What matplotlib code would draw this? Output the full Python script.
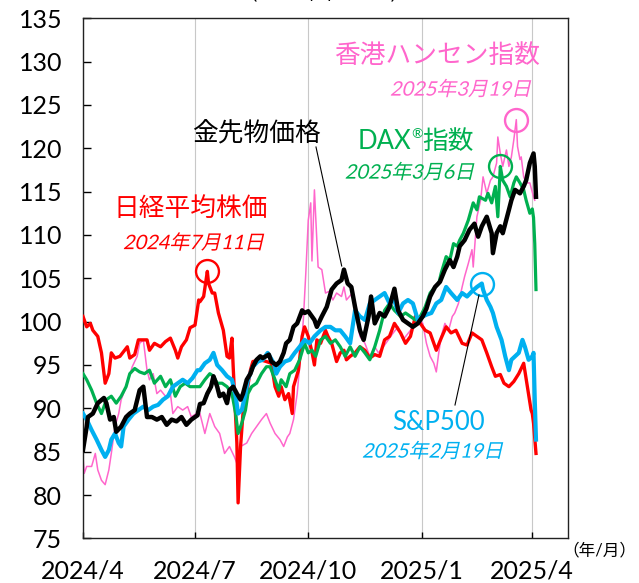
import numpy as np
import pandas as pd
import matplotlib
matplotlib.use("Agg")
import matplotlib.pyplot as plt
from matplotlib.textpath import TextPath
from matplotlib.patches import PathPatch
from matplotlib.font_manager import FontProperties
from matplotlib.transforms import Affine2D

plt.rcParams['font.family'] = ['Lato', 'Noto Sans CJK JP', 'DejaVu Sans']

BASE = pd.Timestamp('2024-04-01')   # day offsets below are days after this date

# ---- data (index, end of 2024 = 100) ----
nikkei_days = [0, 3, 6, 8, 12, 15, 18, 21, 23, 26, 30, 36, 38, 42, 45, 49, 52, 54, 58, 63, 67, 71, 75, 77, 80, 84,
               87, 91, 94, 95, 98, 101, 102, 105, 107, 110, 114, 117, 119, 121, 122, 125, 126, 128, 130, 133, 136,
               138, 144, 149, 153, 156, 159, 161, 164, 167, 170, 171, 175, 178, 180, 183, 186, 188, 190, 193, 197,
               199, 202, 206, 209, 212, 214, 217, 221, 225, 229, 233, 237, 241, 245, 249, 253, 258, 262, 266, 270,
               274, 278, 282, 287, 291, 295, 299, 303, 308, 312, 316, 320, 324, 328, 332, 335, 339, 342, 346, 350,
               354, 358, 361, 364, 365, 366, 368]
nikkei_vals = [100.6, 99.4, 99.8, 99.0, 98.3, 96.4, 92.9, 94.0, 96.4, 95.8, 96.0, 97.1, 95.8, 96.2, 97.9, 97.9, 97.9,
               96.7, 97.5, 97.1, 97.7, 98.1, 96.7, 95.8, 97.1, 97.9, 99.3, 99.6, 102.5, 102.3, 102.9, 105.8, 104.4,
               103.3, 103.3, 101.0, 99.0, 96.0, 95.8, 98.1, 94.8, 86.0, 79.1, 85.6, 89.5, 91.8, 94.4, 95.4, 95.6,
               95.4, 95.2, 92.5, 91.4, 92.5, 91.0, 91.7, 89.4, 92.5, 94.4, 98.3, 99.4, 98.3, 96.5, 95.0, 97.9, 97.5,
               99.0, 98.3, 97.5, 95.4, 96.4, 96.7, 95.6, 96.0, 96.4, 97.1, 96.7, 95.8, 96.2, 96.0, 97.9, 98.3, 99.8,
               98.7, 97.5, 98.3, 100.6, 99.8, 99.0, 98.7, 96.7, 98.1, 99.4, 98.7, 99.0, 97.5, 97.3, 98.7, 98.3, 97.9,
               96.4, 94.8, 93.7, 93.9, 92.9, 92.5, 93.1, 94.0, 95.2, 92.5, 89.8, 89.4, 88.3, 84.8]

gold_days = [0, 3, 4, 8, 12, 17, 19, 22, 25, 27, 31, 35, 38, 42, 46, 49, 52, 56, 60, 64, 68, 72, 76, 80, 84, 88, 93,
             95, 98, 101, 104, 106, 109, 111, 114, 117, 119, 122, 125, 128, 130, 133, 136, 138, 141, 144, 146, 151,
             153, 157, 160, 163, 165, 168, 171, 174, 178, 180, 183, 186, 188, 190, 194, 198, 202, 206, 210, 212,
             215, 218, 221, 225, 228, 232, 234, 237, 241, 245, 249, 253, 256, 260, 264, 268, 272, 276, 279, 282,
             286, 290, 294, 298, 301, 304, 306, 310, 314, 318, 321, 324, 328, 332, 333, 336, 339, 341, 346, 348,
             351, 355, 358, 360, 363, 366, 367, 368]
gold_vals = [85.2, 87.9, 89.0, 89.4, 90.6, 91.2, 90.6, 88.7, 89.0, 87.3, 87.9, 89.0, 89.4, 89.8, 92.1, 92.5, 89.0,
             89.0, 88.7, 89.0, 88.1, 88.7, 88.5, 89.0, 88.1, 88.7, 89.2, 90.5, 90.6, 91.7, 92.5, 93.7, 92.5, 91.4,
             91.7, 90.6, 92.1, 92.5, 91.7, 91.0, 91.7, 93.3, 94.0, 94.8, 95.6, 96.0, 95.8, 96.2, 95.4, 95.0, 95.4,
             96.4, 97.5, 97.9, 99.4, 99.8, 101.3, 101.0, 101.2, 100.6, 100.2, 99.4, 100.6, 101.7, 103.7, 104.4,
             104.8, 106.0, 104.4, 104.0, 101.7, 99.0, 97.9, 100.6, 102.9, 99.8, 101.0, 100.6, 101.7, 103.8, 101.3,
             100.2, 99.8, 99.4, 99.8, 100.6, 101.5, 102.9, 104.0, 104.6, 106.0, 107.1, 106.3, 107.5, 108.7, 109.4,
             110.6, 111.3, 109.8, 111.0, 112.1, 110.2, 107.9, 110.2, 111.0, 110.2, 112.9, 114.0, 115.2, 114.8,
             115.6, 116.3, 118.3, 119.4, 117.9, 114.4]

dax_days = [0, 3, 7, 11, 15, 19, 23, 27, 31, 35, 38, 42, 46, 50, 54, 58, 63, 67, 71, 75, 79, 83, 87, 91, 95, 99, 103,
            106, 109, 113, 117, 121, 124, 126, 129, 132, 134, 137, 141, 145, 149, 152, 156, 159, 161, 165, 168, 172,
            176, 180, 183, 186, 189, 193, 197, 201, 205, 209, 213, 217, 221, 225, 229, 233, 237, 241, 245, 249, 253,
            258, 262, 266, 270, 274, 278, 282, 286, 289, 291, 295, 298, 301, 304, 306, 309, 313, 317, 320, 322, 327,
            329, 332, 335, 337, 339, 341, 344, 347, 350, 352, 355, 358, 360, 363, 365, 366, 367, 368]
dax_vals = [94.0, 93.3, 92.1, 90.6, 89.4, 91.0, 91.4, 90.6, 91.4, 92.5, 94.0, 94.6, 94.2, 94.0, 94.4, 92.9, 93.7,
            92.5, 93.3, 91.4, 92.5, 92.9, 92.5, 92.5, 92.5, 93.3, 94.0, 93.7, 92.9, 92.9, 92.5, 91.7, 89.4, 87.1,
            88.3, 89.8, 91.7, 92.5, 92.9, 94.0, 94.8, 94.8, 93.3, 92.1, 93.3, 92.5, 94.0, 94.4, 95.6, 97.5, 96.4,
            96.7, 96.0, 97.9, 98.3, 97.5, 97.9, 97.1, 96.0, 97.1, 96.0, 97.1, 96.4, 95.6, 97.1, 99.0, 101.3, 102.1,
            101.3, 100.6, 101.0, 100.6, 100.2, 100.6, 101.7, 103.3, 104.0, 104.4, 105.6, 107.5, 107.1, 109.0,
            108.7, 109.4, 110.2, 111.7, 113.7, 112.9, 114.4, 114.0, 114.8, 113.7, 115.6, 112.1, 117.9, 116.3,
            115.6, 114.4, 116.0, 116.7, 116.0, 115.2, 114.0, 112.5, 113.0, 112.0, 109.0, 103.7]

sp500_days = [0, 3, 7, 11, 15, 18, 21, 23, 26, 29, 31, 33, 37, 41, 45, 49, 53, 57, 61, 65, 69, 73, 77, 81, 85, 89,
              93, 95, 99, 103, 106, 109, 113, 117, 121, 124, 126, 129, 132, 134, 138, 142, 146, 150, 155, 157, 160,
              164, 168, 172, 176, 180, 184, 188, 193, 197, 201, 205, 209, 213, 217, 221, 225, 229, 233, 237, 241,
              245, 249, 252, 256, 260, 264, 268, 272, 276, 279, 283, 287, 291, 295, 299, 304, 308, 312, 316, 320,
              324, 325, 328, 331, 333, 336, 340, 343, 346, 348, 351, 354, 357, 359, 362, 365, 366, 367, 368]
sp500_vals = [89.4, 88.7, 87.5, 86.4, 85.2, 84.4, 85.2, 86.4, 87.1, 86.0, 85.6, 87.9, 88.7, 89.4, 89.8, 90.2, 89.8,
              90.2, 90.4, 91.0, 91.4, 92.5, 92.9, 93.3, 92.9, 93.5, 94.4, 94.4, 95.2, 95.6, 96.4, 95.0, 94.4, 93.7,
              93.3, 91.4, 89.4, 89.8, 91.7, 93.3, 94.8, 95.4, 95.6, 96.4, 95.2, 94.0, 94.8, 95.4, 95.6, 96.4, 97.1,
              97.9, 97.5, 98.3, 99.0, 99.4, 99.4, 99.0, 99.0, 98.3, 97.5, 101.3, 100.6, 100.2, 102.1, 102.5, 102.9,
              103.3, 102.1, 102.9, 101.0, 102.1, 102.5, 102.1, 100.2, 100.6, 100.8, 101.0, 102.1, 102.5, 104.0,
              103.3, 102.5, 103.3, 102.9, 103.5, 104.0, 104.4, 103.7, 102.5, 101.7, 101.0, 99.4, 97.9, 96.0, 94.4,
              95.6, 96.0, 96.4, 97.9, 97.1, 95.6, 96.0, 96.4, 91.0, 86.4]

hsi_days = [0, 1, 3, 7, 10, 12, 15, 18, 21, 23, 26, 29, 31, 35, 40, 44, 46, 49, 52, 54, 57, 60, 63, 67, 71, 73, 77,
            81, 85, 88, 92, 95, 99, 103, 107, 111, 115, 119, 123, 126, 128, 133, 137, 141, 145, 149, 152, 156, 160,
            163, 166, 168, 171, 174, 176, 179, 181, 183, 185, 186, 188, 191, 194, 197, 200, 203, 206, 210, 212,
            214, 217, 219, 222, 225, 229, 233, 237, 240, 244, 248, 252, 256, 260, 266, 270, 274, 276, 279, 282,
            285, 287, 289, 291, 294, 297, 300, 302, 305, 308, 310, 313, 316, 317, 320, 323, 325, 328, 331, 333,
            336, 337, 339, 341, 344, 346, 348, 350, 352, 353, 355, 356, 358, 360, 363, 366, 367]
hsi_vals = [84.4, 82.5, 83.3, 83.3, 84.8, 82.9, 81.7, 81.2, 82.9, 84.8, 87.9, 89.4, 91.0, 92.5, 94.8, 96.0, 97.5,
            97.9, 94.4, 93.3, 94.0, 91.7, 92.1, 91.4, 91.7, 89.4, 90.2, 89.8, 90.2, 89.0, 89.4, 89.4, 87.1, 89.4,
            87.9, 87.1, 84.8, 85.6, 84.4, 83.3, 85.6, 86.0, 87.1, 87.9, 88.7, 89.4, 88.3, 87.1, 86.4, 85.6, 86.7,
            87.1, 88.7, 91.7, 94.8, 100.2, 105.6, 111.7, 113.7, 107.0, 115.2, 106.3, 106.0, 103.3, 103.5, 102.5,
            103.3, 102.9, 104.0, 102.5, 103.0, 103.3, 100.6, 98.3, 97.5, 96.0, 97.1, 96.4, 97.1, 97.9, 98.7, 99.4,
            97.9, 99.0, 99.8, 100.2, 99.8, 97.5, 96.0, 95.2, 94.2, 96.4, 98.3, 99.8, 99.0, 100.6, 101.0, 102.1,
            104.0, 105.2, 106.7, 108.3, 106.3, 112.1, 114.0, 116.7, 114.8, 116.3, 116.7, 118.3, 121.3, 119.4,
            117.9, 119.8, 117.9, 119.0, 121.0, 123.3, 120.2, 118.7, 119.0, 116.7, 116.0, 116.0, 114.4, 114.0]

tick_dates = ['2024-04-01', '2024-07-01', '2024-10-01', '2025-01-01', '2025-04-01']
tick_labels = ['2024/4', '2024/7', '2024/10', '2025/1', '2025/4']
y_ticks = list(range(75, 136, 5))

RED, BLACK, GREEN, BLUE, PINK = '#FF0000', '#000000', '#00B050', '#00B0F0', '#FF66CC'

# ---- figure ----
W, H = 639, 583
fig = plt.figure(figsize=(W / 100, H / 100), dpi=100)
AX_L, AX_R, AX_T, AX_B = 83, 568, 18.2, 538.4
ax = fig.add_axes([AX_L / W, 1 - AX_B / H, (AX_R - AX_L) / W, (AX_B - AX_T) / H])


def px(x, y):
    """reference pixel position -> axes fraction"""
    return ((x - AX_L) / (AX_R - AX_L), (AX_B - y) / (AX_B - AX_T))


def to_dates(days):
    return BASE + pd.to_timedelta(np.array(days), unit='D')


series = [
    (hsi_days, hsi_vals, PINK, 1.1, 2),
    (nikkei_days, nikkei_vals, RED, 2.4, 3),
    (dax_days, dax_vals, GREEN, 2.3, 4),
    (sp500_days, sp500_vals, BLUE, 3.0, 5),
    (gold_days, gold_vals, BLACK, 3.2, 6),
]
for d, v, c, lw, z in series:
    ax.plot(to_dates(d), v, color=c, lw=lw, zorder=z, solid_joinstyle='round')

# peak circles
for d, v, c in [(nikkei_days, nikkei_vals, RED), (dax_days, dax_vals, GREEN),
                (sp500_days, sp500_vals, BLUE), (hsi_days, hsi_vals, PINK)]:
    i = int(np.argmax(v))
    ax.plot(to_dates([d[i]]), [v[i]], 'o', ms=16.5, mfc='none', mec=c, mew=1.7, zorder=7, clip_on=False)

ax.set_xlim(pd.Timestamp('2024-04-01'), pd.Timestamp('2025-04-30'))
ax.set_ylim(75, 135)
ax.set_yticks(y_ticks)
ax.set_xticks(pd.to_datetime(tick_dates))
ax.set_xticklabels(tick_labels)
ax.grid(axis='x', color='#C8C8C8', lw=0.8)
ax.grid(axis='y', visible=False)
ax.tick_params(axis='both', direction='in', labelsize=18, width=1.0)
ax.tick_params(axis='y', length=6, pad=15)
ax.tick_params(axis='x', length=4, pad=15.5)
for s in ax.spines.values():
    s.set_linewidth(1.0)
    s.set_color('#222222')

# leader lines
for (x1, y1), (x2, y2) in [((316, 147), (341.7, 266)), ((455, 405), (479, 295))]:
    a, b = px(x1, y1)
    c_, d_ = px(x2, y2)
    ax.plot([a, c_], [b, d_], transform=ax.transAxes, color='black', lw=0.8, zorder=8)

# main labels
LBL = 18.5
ax.text(*px(191, 208), '日経平均株価', color=RED, fontsize=LBL, ha='center', va='center', transform=ax.transAxes)
ax.text(*px(256, 134), '金先物価格', color=BLACK, fontsize=LBL, ha='center', va='center', transform=ax.transAxes)
ax.text(*px(437, 55), '香港ハンセン指数', color=PINK, fontsize=LBL, ha='center', va='center', transform=ax.transAxes)
ax.text(*px(438, 422), 'S&P500', color=BLUE, fontsize=LBL, ha='center', va='center', transform=ax.transAxes)
ax.text(*px(411, 149), 'DAX', color=GREEN, fontsize=LBL, ha='right', va='baseline', transform=ax.transAxes)
ax.text(*px(417, 138), '®', color=GREEN, fontsize=10, ha='center', va='baseline', transform=ax.transAxes)
ax.text(*px(422, 149), '指数', color=GREEN, fontsize=LBL, ha='left', va='baseline', transform=ax.transAxes)


def italic_text(s, cx, cy, size_px, color):
    fp = FontProperties(family=['Lato', 'Noto Sans CJK JP'])
    tp = TextPath((0, 0), s, size=size_px, prop=fp)
    bb = tp.get_extents()
    tr = (Affine2D().translate(-(bb.x0 + bb.x1) / 2, -(bb.y0 + bb.y1) / 2)
          .skew_deg(13, 0).translate(cx, H - cy))
    fig.add_artist(PathPatch(tp, transform=tr, facecolor=color, edgecolor='none', zorder=10))


italic_text('2024年7月11日', 194, 241.5, 20, RED)
italic_text('2025年3月6日', 410, 171, 20, GREEN)
italic_text('2025年3月19日', 461, 88, 20, PINK)
italic_text('2025年2月19日', 433, 450, 20, BLUE)

# title (cut off at the top edge in the reference) and unit label
fig.text(324 / W, 1 + 5.5 / H, '（2024年末＝100）', ha='center', va='center', fontsize=13.5)
fig.text(636 / W, 1 - 550 / H, '（年/月）', ha='right', va='center', fontsize=12)

fig.savefig('out.png', dpi=100)
